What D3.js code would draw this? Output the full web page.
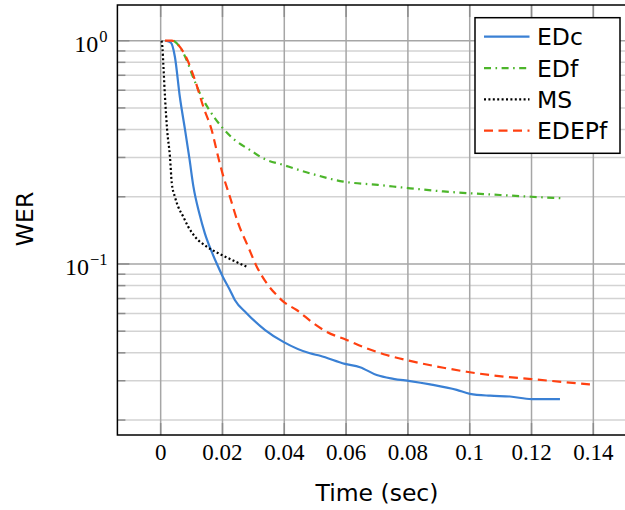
<!DOCTYPE html>
<html>
<head>
<meta charset="utf-8">
<script src="https://cdn.jsdelivr.net/npm/d3@7"></script>
<style>
  html, body { margin: 0; padding: 0; background: #fff; }
  svg { display: block; }
</style>
</head>
<body>
<svg id="chart" width="625" height="510"></svg>
<script>
// Word error rate over decoding time for four decoders
const edcTime = [0.0016, 0.0033, 0.0046, 0.0062, 0.0079, 0.0093, 0.0106, 0.0125, 0.0143, 0.0165, 0.0181, 0.0201, 0.0224, 0.024, 0.0278, 0.0338, 0.0397, 0.0483, 0.0516, 0.0596, 0.0645, 0.0699, 0.0753, 0.0807, 0.0872, 0.0958, 0.1001, 0.1066, 0.113, 0.12, 0.1292];
const edcWer  = [1.0, 0.98, 0.848, 0.561, 0.398, 0.297, 0.222, 0.1687, 0.1372, 0.1135, 0.1007, 0.0877, 0.0765, 0.069, 0.0602, 0.0506, 0.0448, 0.0398, 0.0388, 0.0357, 0.0345, 0.0318, 0.0306, 0.0299, 0.0289, 0.0273, 0.0262, 0.0257, 0.0255, 0.0248, 0.0248];

const edfTime = [0.0042, 0.0057, 0.0084, 0.01, 0.0127, 0.0154, 0.0197, 0.024, 0.0289, 0.0332, 0.0397, 0.0483, 0.0591, 0.0703, 0.0807, 0.0915, 0.1001, 0.1098, 0.12, 0.1303];
const edfWer  = [1.0, 0.957, 0.82, 0.715, 0.581, 0.498, 0.412, 0.359, 0.324, 0.297, 0.2776, 0.2548, 0.234, 0.226, 0.2183, 0.2113, 0.2073, 0.2037, 0.2, 0.197];

const msTime = [0.0003, 0.0006, 0.00085, 0.0014, 0.0021, 0.003, 0.0036, 0.0046, 0.0057, 0.0073, 0.0089, 0.0111, 0.0149, 0.0185, 0.022, 0.028];
const msWer  = [1.0, 0.92, 0.79, 0.56, 0.398, 0.303, 0.23, 0.2, 0.18, 0.163, 0.147, 0.1325, 0.1195, 0.112, 0.106, 0.097];

const edepfTime = [0.0014, 0.0036, 0.0052, 0.0084, 0.0111, 0.0138, 0.0165, 0.0186, 0.0197, 0.0224, 0.0251, 0.0283, 0.0311, 0.0343, 0.0375, 0.0397, 0.044, 0.0494, 0.0537, 0.0602, 0.0667, 0.0731, 0.0807, 0.0915, 0.099, 0.1066, 0.12, 0.1389];
const edepfWer  = [1.0, 1.0, 0.973, 0.834, 0.667, 0.506, 0.398, 0.302, 0.2636, 0.2, 0.152, 0.1195, 0.0973, 0.082, 0.0726, 0.0678, 0.0622, 0.0543, 0.0497, 0.0457, 0.0419, 0.0391, 0.0368, 0.0343, 0.0329, 0.0318, 0.0305, 0.0289];

const seriesNames = ["EDc", "EDf", "MS", "EDEPf"];
const xTickValues = [0, 0.02, 0.04, 0.06, 0.08, 0.1, 0.12, 0.14];
const xTickLabels = ["0", "0.02", "0.04", "0.06", "0.08", "0.1", "0.12", "0.14"];
const yMajorTicks = [1, 0.1];
const yMajorExponents = ["0", "\u22121"];

const series = [
  { name: seriesNames[0], t: edcTime,   v: edcWer,   color: "#3a80d4", dash: null },
  { name: seriesNames[1], t: edfTime,   v: edfWer,   color: "#4cb52a", dash: "7,4.5,1.6,4.5" },
  { name: seriesNames[2], t: msTime,    v: msWer,    color: "#000000", dash: "2,2.4" },
  { name: seriesNames[3], t: edepfTime, v: edepfWer, color: "#ff4010", dash: "9,5.5" }
];

const svg = d3.select("#chart");
const plotLeft = 117.4, plotRight = 636.6, plotTop = 5, plotBottom = 435;

const x = d3.scaleLinear().domain([-0.014, 0.154]).range([plotLeft, plotRight]);
const y = d3.scaleLog().domain([Math.pow(10, -1.766), Math.pow(10, 0.16)]).range([plotBottom, plotTop]);

// minor values 2..9 per decade
const minorVals = [];
[0.01, 0.1, 1].forEach(d => {
  for (let k = 2; k <= 9; k++) {
    const v = d * k;
    if (v >= y.domain()[0] && v <= y.domain()[1]) minorVals.push(v);
  }
});

const grid = svg.append("g");
grid.selectAll("line.hminor").data(minorVals).join("line")
  .attr("x1", plotLeft).attr("x2", plotRight)
  .attr("y1", d => y(d)).attr("y2", d => y(d))
  .attr("stroke", "#d3d3d3").attr("stroke-width", 1.5);
grid.selectAll("line.hmajor").data(yMajorTicks).join("line")
  .attr("x1", plotLeft).attr("x2", plotRight)
  .attr("y1", d => y(d)).attr("y2", d => y(d))
  .attr("stroke", "#a6a6a6").attr("stroke-width", 1.5);
grid.selectAll("line.v").data(xTickValues).join("line")
  .attr("x1", d => x(d)).attr("x2", d => x(d))
  .attr("y1", plotTop).attr("y2", plotBottom)
  .attr("stroke", "#a6a6a6").attr("stroke-width", 1.5);

// tick marks on the inner side of the frame
const ticks = svg.append("g").attr("stroke", "#8c8c8c").attr("stroke-width", 1.5);
ticks.selectAll("line.ym").data(minorVals).join("line")
  .attr("x1", plotLeft).attr("x2", plotLeft + 8)
  .attr("y1", d => y(d)).attr("y2", d => y(d));
ticks.selectAll("line.yM").data(yMajorTicks).join("line")
  .attr("x1", plotLeft).attr("x2", plotLeft + 12)
  .attr("y1", d => y(d)).attr("y2", d => y(d));
ticks.selectAll("line.xb").data(xTickValues).join("line")
  .attr("x1", d => x(d)).attr("x2", d => x(d))
  .attr("y1", plotBottom).attr("y2", plotBottom - 12);
ticks.selectAll("line.xt").data(xTickValues).join("line")
  .attr("x1", d => x(d)).attr("x2", d => x(d))
  .attr("y1", plotTop).attr("y2", plotTop + 12);

// curves
const line = d3.line()
  .x(d => x(d[0])).y(d => y(d[1]))
  .curve(d3.curveMonotoneX);

const plot = svg.append("g");
series.forEach(s => {
  const pts = s.t.map((t, i) => [t, s.v[i]]);
  plot.append("path")
    .datum(pts)
    .attr("d", line)
    .attr("fill", "none")
    .attr("stroke", s.color)
    .attr("stroke-width", 2.2)
    .attr("stroke-linejoin", "round")
    .attr("stroke-dasharray", s.dash);
});

// frame
svg.append("rect")
  .attr("x", plotLeft).attr("y", plotTop)
  .attr("width", plotRight - plotLeft).attr("height", plotBottom - plotTop)
  .attr("fill", "none").attr("stroke", "#000").attr("stroke-width", 1.5);

// x tick labels
const serif = "'Liberation Serif', 'DejaVu Serif', serif";
svg.append("g").selectAll("text").data(xTickValues).join("text")
  .attr("x", d => x(d)).attr("y", 459.5)
  .attr("text-anchor", "middle")
  .attr("font-family", serif).attr("font-size", 23)
  .attr("fill", "#000")
  .text((d, i) => xTickLabels[i]);

// y tick labels as powers of ten
const yl = svg.append("g").selectAll("text").data(yMajorTicks).join("text")
  .attr("x", 107.5).attr("y", d => y(d) + 11.5)
  .attr("text-anchor", "end")
  .attr("font-family", serif).attr("fill", "#000");
yl.append("tspan").attr("font-size", 24).text("10");
yl.append("tspan").attr("font-size", 16.5).attr("dy", -10.5).attr("dx", 1)
  .text((d, i) => yMajorExponents[i]);

// axis titles
const sans = "'DejaVu Sans', Verdana, sans-serif";
svg.append("text")
  .attr("x", (plotLeft + plotRight) / 2).attr("y", 500.5)
  .attr("text-anchor", "middle")
  .attr("font-family", sans).attr("font-size", 23.5)
  .attr("fill", "#000")
  .text("Time (sec)");
svg.append("text")
  .attr("transform", "translate(32.5,219) rotate(-90)")
  .attr("text-anchor", "middle")
  .attr("font-family", sans).attr("font-size", 23.5)
  .attr("fill", "#000")
  .text("WER");

// legend
const lg = svg.append("g");
lg.append("rect")
  .attr("x", 475).attr("y", 17.7).attr("width", 145).attr("height", 135.6)
  .attr("fill", "#fff").attr("stroke", "#000").attr("stroke-width", 1.5);
const rowY = d3.scalePoint().domain(seriesNames).range([36.7, 130.7]);
series.forEach(s => {
  const yy = rowY(s.name);
  lg.append("line")
    .attr("x1", 484).attr("x2", 529.5).attr("y1", yy).attr("y2", yy)
    .attr("stroke", s.color).attr("stroke-width", 2.2)
    .attr("stroke-dasharray", s.dash);
  lg.append("text")
    .attr("x", 537).attr("y", yy + 8.5)
    .attr("font-family", sans).attr("font-size", 23.5)
    .attr("fill", "#000")
    .text(s.name);
});
</script>
</body>
</html>
